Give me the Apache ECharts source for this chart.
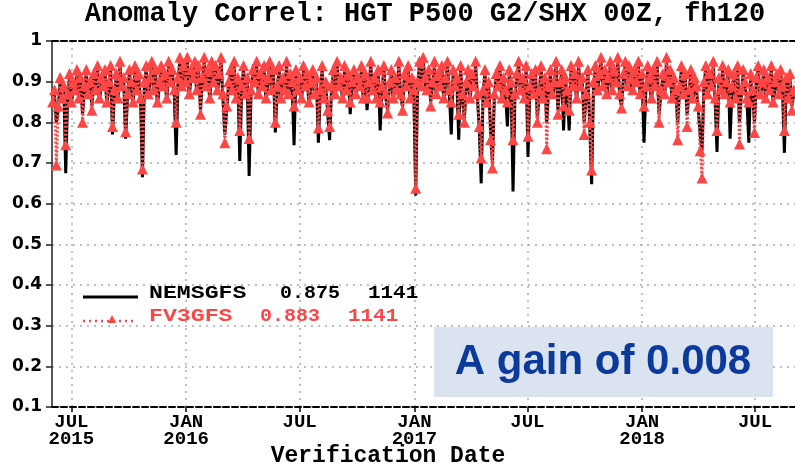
<!DOCTYPE html>
<html>
<head>
    <meta charset="utf-8">
    <title>Anomaly Correl: HGT P500 G2/SHX 00Z, fh120</title>
    <script src="https://cdn.jsdelivr.net/npm/echarts@6/dist/echarts.min.js"></script>
</head>
<body style="margin:0;background:#fff">
<div id="main" style="width:795px;height:469px;"></div>
<script type="text/javascript">
    // values, one every 3 days starting 2015-06-01
    var startDate = '2015-06-01';
    var stepDays = 3;

    var nemsgfs = [
        0.84, 0.87, 0.80, 0.83, 0.90, 0.85, 0.88, 0.675, 0.86, 0.91,
        0.84, 0.89, 0.87, 0.92, 0.85, 0.90, 0.82, 0.88, 0.92, 0.86,
        0.89, 0.84, 0.91, 0.87, 0.93, 0.85, 0.90, 0.88, 0.92, 0.84,
        0.89, 0.93, 0.77, 0.87, 0.91, 0.85, 0.94, 0.88, 0.90, 0.76,
        0.86, 0.92, 0.89, 0.84, 0.93, 0.87, 0.91, 0.85, 0.665, 0.89,
        0.93, 0.86, 0.90, 0.94, 0.87, 0.92, 0.84, 0.89, 0.93, 0.88,
        0.91, 0.85, 0.94, 0.89, 0.92, 0.87, 0.72, 0.90, 0.95, 0.88,
        0.93, 0.89, 0.95, 0.86, 0.92, 0.90, 0.94, 0.87, 0.93, 0.83,
        0.90, 0.95, 0.88, 0.92, 0.85, 0.94, 0.89, 0.93, 0.87, 0.91,
        0.95, 0.86, 0.77, 0.83, 0.89, 0.92, 0.87, 0.94, 0.85, 0.90,
        0.705, 0.88, 0.93, 0.86, 0.90, 0.668, 0.87, 0.92, 0.89, 0.94,
        0.86, 0.91, 0.88, 0.93, 0.85, 0.90, 0.94, 0.87, 0.92, 0.775,
        0.88, 0.93, 0.85, 0.90, 0.87, 0.94, 0.86, 0.91, 0.89, 0.744,
        0.92, 0.87, 0.90, 0.85, 0.93, 0.88, 0.91, 0.84, 0.89, 0.92,
        0.86, 0.90, 0.75, 0.87, 0.93, 0.85, 0.89, 0.82, 0.756, 0.88,
        0.92, 0.86, 0.94, 0.88, 0.90, 0.85, 0.93, 0.87, 0.91, 0.82,
        0.89, 0.92, 0.86, 0.90, 0.88, 0.93, 0.85, 0.91, 0.83, 0.89,
        0.94, 0.87, 0.90, 0.85, 0.92, 0.78, 0.88, 0.93, 0.86, 0.83,
        0.89, 0.92, 0.85, 0.90, 0.87, 0.94, 0.86, 0.84, 0.91, 0.88,
        0.93, 0.85, 0.90, 0.87, 0.62, 0.89, 0.94, 0.88, 0.95, 0.90,
        0.87, 0.92, 0.85, 0.89, 0.94, 0.86, 0.91, 0.88, 0.93, 0.85,
        0.90, 0.94, 0.87, 0.77, 0.92, 0.88, 0.90, 0.757, 0.93, 0.86,
        0.81, 0.89, 0.92, 0.85, 0.91, 0.88, 0.94, 0.86, 0.78, 0.65,
        0.87, 0.92, 0.84, 0.89, 0.78, 0.70, 0.86, 0.91, 0.88, 0.93,
        0.85, 0.90, 0.87, 0.79, 0.92, 0.89, 0.63, 0.86, 0.91, 0.94,
        0.87, 0.90, 0.85, 0.93, 0.715, 0.88, 0.91, 0.86, 0.92, 0.81,
        0.87, 0.93, 0.85, 0.90, 0.80, 0.88, 0.92, 0.86, 0.89, 0.94,
        0.83, 0.89, 0.92, 0.78, 0.90, 0.87, 0.78, 0.93, 0.88, 0.91,
        0.85, 0.94, 0.88, 0.90, 0.80, 0.86, 0.92, 0.79, 0.648, 0.89,
        0.93, 0.87, 0.91, 0.95, 0.88, 0.92, 0.86, 0.90, 0.94, 0.87,
        0.92, 0.89, 0.95, 0.86, 0.84, 0.91, 0.94, 0.88, 0.93, 0.90,
        0.87, 0.92, 0.89, 0.94, 0.86, 0.91, 0.75, 0.88, 0.93, 0.90,
        0.85, 0.92, 0.88, 0.94, 0.82, 0.87, 0.91, 0.86, 0.95, 0.89,
        0.92, 0.85, 0.90, 0.87, 0.80, 0.88, 0.93, 0.86, 0.91, 0.82,
        0.87, 0.92, 0.85, 0.90, 0.88, 0.83, 0.77, 0.73, 0.89, 0.93,
        0.86, 0.91, 0.88, 0.94, 0.85, 0.727, 0.90, 0.87, 0.93, 0.86,
        0.89, 0.92, 0.76, 0.88, 0.91, 0.85, 0.93, 0.80, 0.87, 0.92,
        0.89, 0.85, 0.75, 0.91, 0.87, 0.80, 0.90, 0.93, 0.86, 0.89,
        0.92, 0.85, 0.90, 0.87, 0.93, 0.84, 0.89, 0.91, 0.86, 0.92,
        0.88, 0.725, 0.90, 0.85, 0.91, 0.84, 0.87
    ];

    var fv3gfs = [
        0.85, 0.88, 0.695, 0.84, 0.91, 0.86, 0.89, 0.745, 0.87, 0.92,
        0.85, 0.90, 0.88, 0.93, 0.86, 0.91, 0.80, 0.89, 0.93, 0.87,
        0.90, 0.83, 0.92, 0.88, 0.94, 0.86, 0.91, 0.89, 0.93, 0.85,
        0.90, 0.94, 0.79, 0.88, 0.92, 0.86, 0.95, 0.89, 0.91, 0.777,
        0.87, 0.93, 0.90, 0.85, 0.94, 0.88, 0.92, 0.86, 0.685, 0.90,
        0.94, 0.87, 0.91, 0.95, 0.88, 0.93, 0.85, 0.90, 0.94, 0.89,
        0.92, 0.86, 0.95, 0.90, 0.93, 0.88, 0.80, 0.91, 0.96, 0.89,
        0.94, 0.90, 0.96, 0.87, 0.93, 0.91, 0.95, 0.88, 0.94, 0.82,
        0.91, 0.96, 0.89, 0.93, 0.86, 0.95, 0.90, 0.94, 0.88, 0.92,
        0.96, 0.87, 0.75, 0.84, 0.90, 0.93, 0.88, 0.95, 0.86, 0.91,
        0.78, 0.89, 0.94, 0.87, 0.91, 0.76, 0.88, 0.93, 0.90, 0.95,
        0.87, 0.92, 0.89, 0.94, 0.86, 0.91, 0.95, 0.88, 0.93, 0.80,
        0.89, 0.94, 0.86, 0.91, 0.88, 0.95, 0.87, 0.92, 0.90, 0.84,
        0.93, 0.88, 0.91, 0.86, 0.94, 0.89, 0.92, 0.85, 0.90, 0.93,
        0.87, 0.91, 0.786, 0.88, 0.94, 0.86, 0.90, 0.83, 0.79, 0.89,
        0.93, 0.87, 0.95, 0.89, 0.91, 0.86, 0.94, 0.88, 0.92, 0.85,
        0.90, 0.93, 0.87, 0.91, 0.89, 0.94, 0.86, 0.92, 0.86, 0.90,
        0.95, 0.88, 0.91, 0.86, 0.93, 0.85, 0.89, 0.94, 0.87, 0.823,
        0.90, 0.93, 0.86, 0.91, 0.88, 0.95, 0.87, 0.83, 0.92, 0.89,
        0.94, 0.86, 0.91, 0.88, 0.638, 0.90, 0.95, 0.89, 0.96, 0.91,
        0.88, 0.93, 0.84, 0.90, 0.95, 0.87, 0.92, 0.89, 0.94, 0.86,
        0.91, 0.95, 0.88, 0.85, 0.93, 0.89, 0.91, 0.82, 0.94, 0.87,
        0.80, 0.90, 0.93, 0.86, 0.92, 0.89, 0.95, 0.87, 0.79, 0.712,
        0.88, 0.93, 0.85, 0.90, 0.757, 0.688, 0.87, 0.92, 0.89, 0.94,
        0.86, 0.91, 0.88, 0.85, 0.93, 0.90, 0.757, 0.87, 0.92, 0.95,
        0.88, 0.91, 0.86, 0.94, 0.766, 0.89, 0.92, 0.87, 0.93, 0.80,
        0.88, 0.94, 0.86, 0.91, 0.735, 0.89, 0.93, 0.87, 0.90, 0.95,
        0.82, 0.90, 0.93, 0.84, 0.91, 0.88, 0.83, 0.94, 0.89, 0.92,
        0.86, 0.95, 0.89, 0.91, 0.77, 0.87, 0.93, 0.80, 0.683, 0.90,
        0.94, 0.88, 0.92, 0.96, 0.89, 0.93, 0.87, 0.91, 0.95, 0.88,
        0.93, 0.90, 0.96, 0.87, 0.835, 0.92, 0.95, 0.89, 0.94, 0.91,
        0.88, 0.93, 0.90, 0.95, 0.87, 0.92, 0.84, 0.89, 0.94, 0.91,
        0.86, 0.93, 0.89, 0.95, 0.80, 0.88, 0.92, 0.87, 0.96, 0.90,
        0.93, 0.86, 0.91, 0.88, 0.757, 0.89, 0.94, 0.87, 0.92, 0.79,
        0.88, 0.93, 0.86, 0.91, 0.89, 0.84, 0.73, 0.663, 0.90, 0.94,
        0.87, 0.92, 0.89, 0.95, 0.86, 0.78, 0.91, 0.88, 0.94, 0.87,
        0.90, 0.93, 0.85, 0.89, 0.92, 0.86, 0.94, 0.747, 0.88, 0.93,
        0.90, 0.86, 0.85, 0.92, 0.88, 0.775, 0.91, 0.94, 0.87, 0.90,
        0.93, 0.86, 0.91, 0.88, 0.94, 0.85, 0.90, 0.92, 0.87, 0.93,
        0.89, 0.78, 0.91, 0.86, 0.92, 0.83, 0.88
    ];

    var tickDates = ['2015-07-01', '2016-01-01', '2016-07-01', '2017-01-01', '2017-07-01', '2018-01-01', '2018-07-01'];
    var tickLabels = ['JUL\n2015', 'JAN\n2016', 'JUL', 'JAN\n2017', 'JUL', 'JAN\n2018', 'JUL'];

    function toTime(s) {
        var p = s.split('-');
        return Date.UTC(+p[0], +p[1] - 1, +p[2]);
    }

    var t0 = toTime(startDate);
    var dayMs = 86400000;
    function toPairs(arr) {
        return arr.map(function (v, i) {
            return [t0 + i * stepDays * dayMs, v];
        });
    }
    var tickValues = tickDates.map(toTime);

    var RED = '#ff4646';
    var MONO = '"Liberation Mono", "Courier New", monospace';

    var myChart = echarts.init(document.getElementById('main'));

    myChart.setOption({
        animation: false,
        backgroundColor: '#fff',
        grid: {left: 52, right: 0, top: 41, bottom: 62},
        xAxis: [{
            type: 'value',
            min: toTime('2015-05-31'),
            max: toTime('2018-09-03'),
            axisLine: {lineStyle: {color: '#000', width: 2, type: [6, 3]}},
            axisTick: {show: true, length: 5, customValues: tickValues, lineStyle: {color: '#000', width: 1.5}},
            axisLabel: {
                customValues: tickValues,
                color: '#000',
                fontFamily: MONO,
                fontWeight: 'bold',
                fontSize: 19,
                lineHeight: 17,
                margin: 7,
                formatter: function (val) {
                    var k = tickValues.indexOf(val);
                    return k >= 0 ? tickLabels[k] : '';
                }
            },
            splitLine: {show: true, lineStyle: {color: '#aaa', width: 1.5, type: [2, 5]}}
        }, {
            type: 'value',
            position: 'top',
            min: 0,
            max: 1,
            axisLine: {show: true, lineStyle: {color: '#000', width: 2, type: [6, 3]}},
            axisTick: {show: false},
            axisLabel: {show: false},
            splitLine: {show: false}
        }],
        yAxis: {
            type: 'value',
            min: 0.1,
            max: 1,
            interval: 0.1,
            axisLine: {show: true, lineStyle: {color: '#222', width: 1.5}},
            axisTick: {show: true, length: 6, lineStyle: {color: '#222', width: 1.5}},
            axisLabel: {
                color: '#000',
                fontFamily: '"DejaVu Sans", sans-serif',
                fontWeight: 'bold',
                fontSize: 17,
                margin: 10,
                formatter: function (v) {
                    return Math.abs(v - 1) < 1e-6 ? '1' : v.toFixed(1);
                }
            },
            splitLine: {show: true, lineStyle: {color: '#aaa', width: 1.5, type: [2, 5]}}
        },
        series: [{
            name: 'NEMSGFS',
            type: 'line',
            data: toPairs(nemsgfs),
            showSymbol: false,
            lineStyle: {color: '#000', width: 3},
            z: 2
        }, {
            name: 'FV3GFS',
            type: 'line',
            data: toPairs(fv3gfs),
            symbol: 'triangle',
            symbolSize: 11,
            itemStyle: {color: RED},
            lineStyle: {color: RED, width: 3, type: [2, 2]},
            z: 3
        }],
        graphic: [
            {
                type: 'text', x: 425, y: 14, z: 100,
                style: {text: 'Anomaly Correl: HGT P500 G2/SHX 00Z, fh120', font: 'bold 27px ' + MONO, fill: '#000',
                    textAlign: 'center', textVerticalAlign: 'middle'}
            },
            {
                type: 'text', x: 388, y: 456, z: 100,
                style: {text: 'Verification Date', font: 'bold 23px ' + MONO, fill: '#000',
                    textAlign: 'center', textVerticalAlign: 'middle'}
            },
            {
                type: 'line', z: 100,
                shape: {x1: 83, y1: 297, x2: 138, y2: 297},
                style: {stroke: '#000', lineWidth: 3}
            },
            {
                type: 'line', z: 100,
                shape: {x1: 83, y1: 321, x2: 135, y2: 321},
                style: {stroke: RED, lineWidth: 2.5, lineDash: [2, 4]}
            },
            {
                type: 'polygon', z: 100,
                shape: {points: [[112, 315], [116, 323], [108, 323]]},
                style: {fill: RED}
            },
            {type: 'text', x: 149, y: 284, z: 100, scaleX: 1.22,
                style: {text: 'NEMSGFS', font: 'bold 19px ' + MONO, fill: '#000'}},
            {type: 'text', x: 280, y: 284, z: 100, scaleX: 1.05,
                style: {text: '0.875', font: 'bold 19px ' + MONO, fill: '#000'}},
            {type: 'text', x: 368, y: 284, z: 100, scaleX: 1.1,
                style: {text: '1141', font: 'bold 19px ' + MONO, fill: '#000'}},
            {type: 'text', x: 149, y: 307, z: 100, scaleX: 1.22,
                style: {text: 'FV3GFS', font: 'bold 19px ' + MONO, fill: RED}},
            {type: 'text', x: 260, y: 307, z: 100, scaleX: 1.05,
                style: {text: '0.883', font: 'bold 19px ' + MONO, fill: RED}},
            {type: 'text', x: 348, y: 307, z: 100, scaleX: 1.1,
                style: {text: '1141', font: 'bold 19px ' + MONO, fill: RED}},
            {
                type: 'rect', z: 100,
                shape: {x: 434, y: 327, width: 339, height: 70},
                style: {fill: '#dbe3f0'}
            },
            {
                type: 'text', z: 101, x: 603, y: 362,
                style: {
                    text: 'A gain of 0.008',
                    font: 'bold 42px "Liberation Sans", Arial, sans-serif',
                    fill: '#0b3a9c',
                    textAlign: 'center',
                    textVerticalAlign: 'middle'
                }
            }
        ]
    });
</script>
</body>
</html>
